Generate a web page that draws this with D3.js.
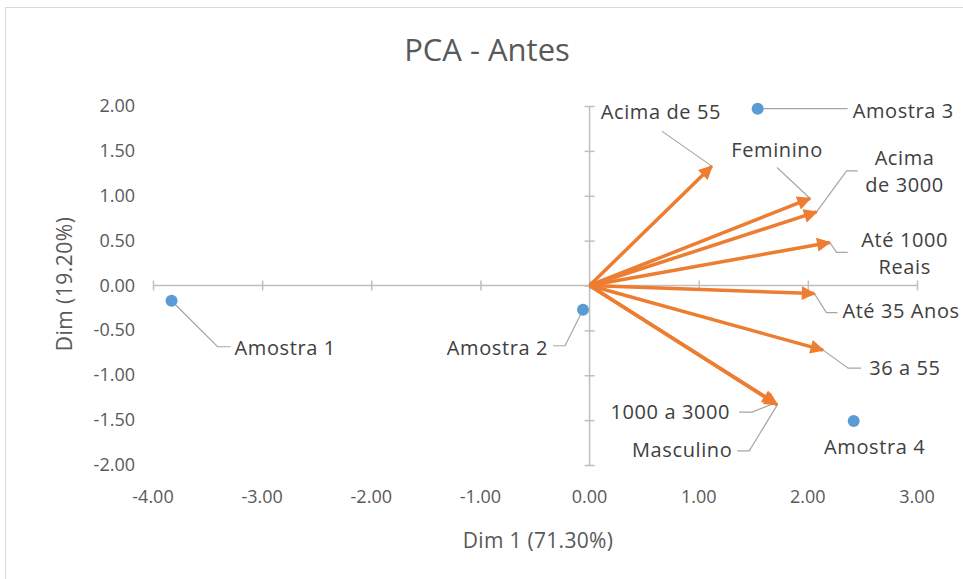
<!DOCTYPE html>
<html>
<head>
<meta charset="utf-8">
<script src="https://cdn.jsdelivr.net/npm/d3@7"></script>
<style>
  body { margin: 0; background: #fff; }
  text { font-family: "Open Sans", "Liberation Sans", sans-serif; }
</style>
</head>
<body>
<svg id="chart"></svg>
<script>
// samples (blue points)
const sampleNames = ['Amostra 1', 'Amostra 2', 'Amostra 3', 'Amostra 4'];
const sampleX = [-3.83, -0.06, 1.54, 2.42];
const sampleY = [-0.17, -0.27, 1.97, -1.51];

// variables (orange arrows)
const varNames = ['Acima de 55', 'Feminino', 'Acima de 3000', 'Até 1000 Reais', 'Até 35 Anos', '36 a 55', '1000 a 3000', 'Masculino'];
const varX = [1.12, 2.02, 2.08, 2.20, 2.06, 2.14, 1.70, 1.72];
const varY = [1.33, 0.97, 0.82, 0.48, -0.09, -0.72, -1.31, -1.33];

const xTicks = [-4, -3, -2, -1, 0, 1, 2, 3];
const yTicks = [-2, -1.5, -1, -0.5, 0, 0.5, 1, 1.5, 2];

// label layout (pixel offsets from the mark): leader elbow, leader end, text lines
const sampleLabels = [
  {elbow: [46, 46], end: [59, 46], text: [63, 47], anchor: 'start', lines: ['Amostra 1']},
  {elbow: [-18, 36], end: [-30, 36], text: [-35, 38], anchor: 'end', lines: ['Amostra 2']},
  {elbow: [90, 0], end: [90, 0], text: [95, 2], anchor: 'start', lines: ['Amostra 3']},
  {elbow: null, end: null, text: [21, 26], anchor: 'middle', lines: ['Amostra 4']}
];
const varLabels = [
  {elbow: [-50, -35], end: [-50, -35], text: [-111, -54], anchor: 'start', lines: ['Acima de 55']},
  {elbow: [-33, -31], end: [-33, -31], text: [-33, -48], anchor: 'middle', lines: ['Feminino']},
  {elbow: [30, -41], end: [41, -41], text: [88, -54], anchor: 'middle', lines: ['Acima', 'de 3000']},
  {elbow: [7, 10], end: [18, 10], text: [75, -2], anchor: 'middle', lines: ['Até 1000', 'Reais']},
  {elbow: [12, 19], end: [23, 19], text: [28, 17], anchor: 'start', lines: ['Até 35 Anos']},
  {elbow: [25, 18], end: [38, 18], text: [46, 18], anchor: 'start', lines: ['36 a 55']},
  {elbow: [-23, 9], end: [-36, 9], text: [-45, 9], anchor: 'end', lines: ['1000 a 3000']},
  {elbow: [-28, 46], end: [-40, 46], text: [-45, 45], anchor: 'end', lines: ['Masculino']}
];

const width = 963, height = 579;
const margin = {top: 106, right: 46, bottom: 114, left: 153};

const svg = d3.select('#chart')
  .attr('width', width)
  .attr('height', height);

// chart frame
svg.append('rect')
  .attr('x', 5.5).attr('y', 7.5)
  .attr('width', 1000).attr('height', 1000)
  .attr('fill', 'none')
  .attr('stroke', '#d9d9d9');

const x = d3.scaleLinear().domain([-4, 3]).range([margin.left, width - margin.right]);
const y = d3.scaleLinear().domain([-2, 2]).range([height - margin.bottom, margin.top]);

const axisColor = '#bfbfbf';
const tickColor = '#595959';
const fmt = d => d3.format('.2f')(d).replace('−', '-');

// title
svg.append('text')
  .attr('x', 487).attr('y', 61)
  .attr('text-anchor', 'middle')
  .attr('font-size', 31)
  .attr('fill', '#595959')
  .text('PCA - Antes');

// axes lines through origin
const xAxis = d3.axisBottom(x).tickValues(xTicks).tickSize(10).tickFormat('');
const xAxisG = svg.append('g')
  .attr('transform', `translate(0,${y(0) - 5})`)
  .call(xAxis);
const yAxis = d3.axisLeft(y).tickValues(yTicks).tickSize(10).tickFormat('');
const yAxisG = svg.append('g')
  .attr('transform', `translate(${x(0) + 5},0)`)
  .call(yAxis);
[xAxisG, yAxisG].forEach(g => {
  g.select('.domain').remove();
  g.selectAll('line').attr('stroke', axisColor).attr('stroke-width', 1.5);
});
svg.append('line')
  .attr('x1', x(-4)).attr('x2', x(3))
  .attr('y1', y(0)).attr('y2', y(0))
  .attr('stroke', axisColor).attr('stroke-width', 1.5);
svg.append('line')
  .attr('x1', x(0)).attr('x2', x(0))
  .attr('y1', y(2)).attr('y2', y(-2))
  .attr('stroke', axisColor).attr('stroke-width', 1.5);

// tick labels, at chart edges (like Excel "low" labels)
svg.append('g').selectAll('text')
  .data(xTicks)
  .join('text')
  .attr('x', d => x(d))
  .attr('y', 503)
  .attr('text-anchor', 'middle')
  .attr('font-size', 18)
  .attr('fill', tickColor)
  .text(d => fmt(d));
svg.append('g').selectAll('text')
  .data(yTicks)
  .join('text')
  .attr('x', 135)
  .attr('y', d => y(d) + 6)
  .attr('text-anchor', 'end')
  .attr('font-size', 18)
  .attr('fill', tickColor)
  .text(d => fmt(d));

// axis titles
svg.append('text')
  .attr('x', 538).attr('y', 548)
  .attr('text-anchor', 'middle')
  .attr('font-size', 21)
  .attr('letter-spacing', 0.3)
  .attr('fill', tickColor)
  .text('Dim 1 (71.30%)');
svg.append('text')
  .attr('transform', `translate(72,284) rotate(-90)`)
  .attr('text-anchor', 'middle')
  .attr('font-size', 21)
  .attr('letter-spacing', 0.5)
  .attr('fill', tickColor)
  .text('Dim (19.20%)');

// arrow marker
svg.append('defs').append('marker')
  .attr('id', 'head')
  .attr('viewBox', '0 0 10 10')
  .attr('refX', 9).attr('refY', 5)
  .attr('markerWidth', 4.6).attr('markerHeight', 4)
  .attr('markerUnits', 'strokeWidth')
  .attr('orient', 'auto')
  .append('path')
  .attr('d', 'M0,0 L10,5 L0,10 Z')
  .attr('fill', '#ED7D31');

const vars = varNames.map((n, i) => ({name: n, x: varX[i], y: varY[i], lab: varLabels[i]}));
const samples = sampleNames.map((n, i) => ({name: n, x: sampleX[i], y: sampleY[i], lab: sampleLabels[i]}));

// leader lines
const leader = d => {
  const px = x(d.x), py = y(d.y);
  return `M${px},${py} L${px + d.lab.elbow[0]},${py + d.lab.elbow[1]} L${px + d.lab.end[0]},${py + d.lab.end[1]}`;
};
svg.append('g').selectAll('path')
  .data(vars.concat(samples).filter(d => d.lab.elbow))
  .join('path')
  .attr('d', leader)
  .attr('fill', 'none')
  .attr('stroke', '#a6a6a6')
  .attr('stroke-width', 1.2);

// arrows
svg.append('g').selectAll('line')
  .data(vars)
  .join('line')
  .attr('x1', x(0)).attr('y1', y(0))
  .attr('x2', d => x(d.x)).attr('y2', d => y(d.y))
  .attr('stroke', '#ED7D31')
  .attr('stroke-width', 3.5)
  .attr('marker-end', 'url(#head)');

// points
svg.append('g').selectAll('circle')
  .data(samples)
  .join('circle')
  .attr('cx', d => x(d.x)).attr('cy', d => y(d.y))
  .attr('r', 6)
  .attr('fill', '#5B9BD5');

// labels
svg.append('g').selectAll('text')
  .data(vars.concat(samples))
  .join('text')
  .attr('x', d => x(d.x) + d.lab.text[0])
  .attr('y', d => y(d.y) + d.lab.text[1] + 7)
  .attr('text-anchor', d => d.lab.anchor)
  .attr('font-size', 20)
  .attr('letter-spacing', 0.6)
  .attr('fill', '#404040')
  .selectAll('tspan')
  .data(d => d.lab.lines.map((l, i) => ({l, i, d})))
  .join('tspan')
  .attr('x', o => x(o.d.x) + o.d.lab.text[0])
  .attr('dy', o => o.i === 0 ? 0 : 27)
  .text(o => o.l);
</script>
</body>
</html>
